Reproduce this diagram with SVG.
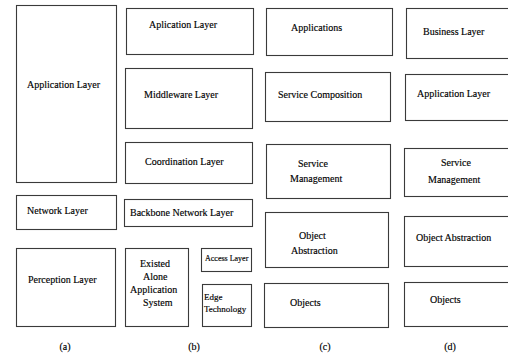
<svg xmlns="http://www.w3.org/2000/svg" width="508" height="356" viewBox="0 0 508 356">
<style>
rect{fill:#fff;stroke:#3a3a3a;stroke-width:1.1}
text{font-family:"Liberation Serif","Times New Roman",serif;font-size:10px;fill:#000;stroke:#000;stroke-width:0.15}
.s{font-size:8px}
.m{font-size:9px}
.c{text-anchor:middle;font-size:10px}
</style>
<rect x="0" y="0" width="508" height="356" style="fill:#fff;stroke:none"/>
<g id="a-app"><rect x="16.5" y="5.5" width="100" height="177"/><text x="27" y="88">Application Layer</text></g>
<g id="a-net"><rect x="16.5" y="195.5" width="100" height="34"/><text x="27" y="214">Network Layer</text></g>
<g id="a-per"><rect x="16.5" y="248.5" width="99" height="78"/><text x="28" y="283">Perception Layer</text></g>

<g id="b-app"><rect x="126.5" y="8.5" width="127" height="46"/><text x="149" y="28">Aplication Layer</text></g>
<g id="b-mid"><rect x="125.5" y="68.5" width="127" height="60"/><text x="144" y="98">Middleware Layer</text></g>
<g id="b-coord"><rect x="125.5" y="142.5" width="127" height="41"/><text x="145" y="165">Coordination Layer</text></g>
<g id="b-back"><rect x="124.5" y="199.5" width="128" height="27"/><text x="130" y="216">Backbone Network Layer</text></g>
<g id="b-exist"><rect x="125.5" y="248.5" width="63" height="78"/><text x="140" y="267">Existed</text><text x="143" y="280">Alone</text><text x="130" y="293">Application</text><text x="143" y="306">System</text></g>
<g id="b-access"><rect x="201.5" y="248.5" width="50" height="23"/><text class="s" x="205" y="261">Access Layer</text></g>
<g id="b-edge"><rect x="202.5" y="284.5" width="49" height="42"/><text class="m" x="204" y="300">Edge</text><text class="m" x="204" y="312">Technology</text></g>

<g id="c-apps"><rect x="266.5" y="8.5" width="126" height="47"/><text x="291" y="31">Applications</text></g>
<g id="c-comp"><rect x="265.5" y="72.5" width="125" height="49"/><text x="278" y="98">Service Composition</text></g>
<g id="c-mgmt"><rect x="266.5" y="144.5" width="124" height="54"/><text x="298" y="167">Service</text><text x="290" y="182">Management</text></g>
<g id="c-abs"><rect x="265.5" y="212.5" width="123" height="55"/><text x="299" y="239">Object</text><text x="291" y="254">Abstraction</text></g>
<g id="c-obj"><rect x="264.5" y="283.5" width="124" height="44"/><text x="290" y="306">Objects</text></g>

<g id="d-bus"><rect x="406.5" y="8.5" width="110" height="50"/><text x="423" y="35">Business Layer</text></g>
<g id="d-app"><rect x="405.5" y="74.5" width="110" height="46"/><text x="417" y="97">Application Layer</text></g>
<g id="d-mgmt"><rect x="404.5" y="148.5" width="110" height="48"/><text x="441" y="166">Service</text><text x="428" y="183">Management</text></g>
<g id="d-abs"><rect x="404.5" y="216.5" width="110" height="50"/><text x="416" y="241">Object Abstraction</text></g>
<g id="d-obj"><rect x="404.5" y="282.5" width="110" height="44"/><text x="430" y="303">Objects</text></g>

<g id="captions">
<text class="c" x="65" y="350">(a)</text>
<text class="c" x="194" y="350">(b)</text>
<text class="c" x="325" y="350">(c)</text>
<text class="c" x="450" y="350">(d)</text>
</g>
<g id="connectors"></g>
</svg>
